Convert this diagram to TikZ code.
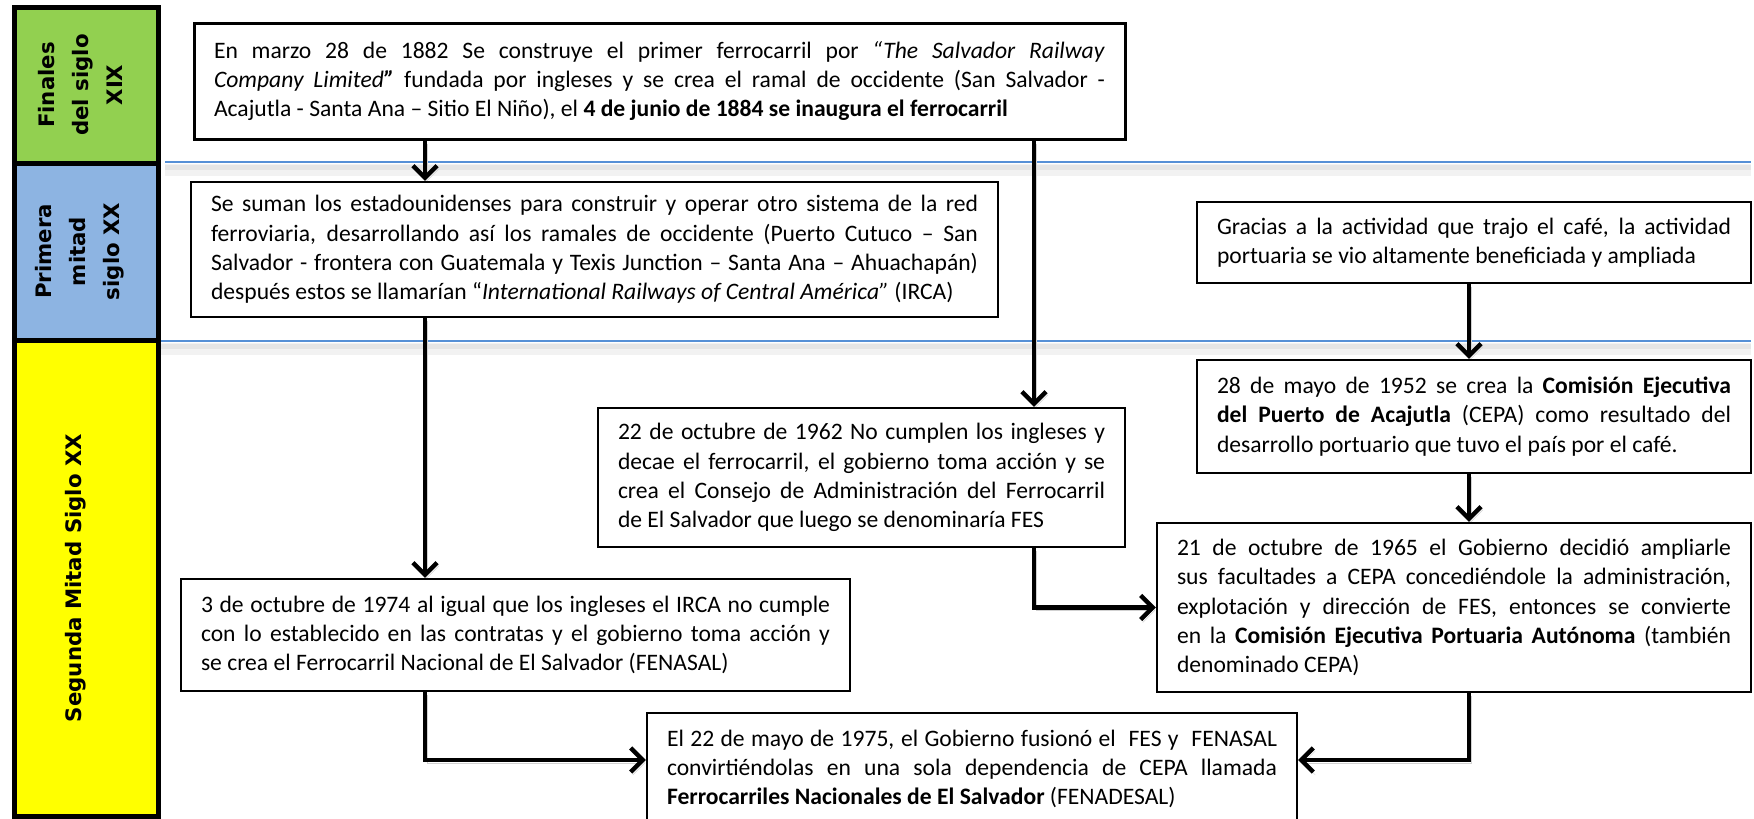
\documentclass[tikz,border=0pt]{standalone}
\usepackage{fontspec}
\setmainfont{Carlito}
\newfontfamily\erafont{DejaVu Sans}
\usetikzlibrary{arrows.meta}

\definecolor{siglogreen}{RGB}{146,208,80}
\definecolor{siglosky}{RGB}{141,180,226}
\definecolor{sigloyellow}{RGB}{255,255,0}
\definecolor{rulerblue}{RGB}{86,144,214}

\newcommand{\eventfont}{\fontsize{23.6}{29.3}\selectfont}
\newcommand{\erasize}{\erafont\bfseries\fontsize{21.3}{34}\selectfont}

\tikzset{
    era/.style={draw, line width=5pt, minimum width=144pt},
    eratext/.style={rotate=90, align=center, font=\erasize},
    event/.style={draw, line width=2.2pt, fill=white, inner xsep=20pt,
        inner ysep=0pt, align=justify, font=\eventfont},
    ruler/.style={draw=rulerblue, line width=1.6pt},
    rulershade/.style={draw=black!5, line width=12pt},
    rulershadedark/.style={draw=black!10, line width=5pt},
    link/.style={->, line width=4.5pt,
        preaction={draw=black!18, transform canvas={shift={(2pt,-3pt)}}}}
}

\begin{document}
\begin{tikzpicture}[x=1pt, y=-1pt, >={Straight Barb[length=12pt,width=24pt]}]
    % the frame of the whole picture
    \clip (0,0) rectangle (1754,819);
    \fill[white] (0,0) rectangle (1754,819);

    % the two blue rulers between the periods, with their shadow
    \draw[rulershade] (165,170) -- (1751,170);
    \draw[rulershadedark] (165,167) -- (1751,167);
    \draw[ruler] (165,162) -- (1751,162);
    \draw[rulershade] (158,349) -- (1751,349);
    \draw[rulershadedark] (158,346) -- (1751,346);
    \draw[ruler] (158,341) -- (1751,341);

    % the coloured column of the periods
    \node[era, fill=siglogreen, minimum height=156pt] (finales) at (86,85) {};
    \node[eratext] (finalestext) at ([xshift=-6pt]finales.center) {Finales\\del siglo\\XIX};
    \node[era, fill=siglosky, minimum height=177pt] (primera) at (86,251.5) {};
    \node[eratext] (primeratext) at ([xshift=-6pt]primera.center) {Primera\\mitad\\siglo XX};
    \node[era, fill=sigloyellow, minimum height=476pt] (segunda) at (86,578) {};
    \node[eratext] (segundatext) at ([xshift=-10pt]segunda.center) {Segunda Mitad Siglo XX};

    % the columns and the row where the connectors run
    \coordinate (colA) at (425,0);
    \coordinate (colB) at (1034,0);
    \coordinate (colC) at (1469,0);
    \coordinate (rowC) at (0,760);

    % The box of 1882 -> first railway
    \node[event, minimum width=931pt, minimum height=116pt, text width=891pt, line width=3pt]
        (marzo) at (659.5,81) {En marzo 28 de 1882 Se construye el primer ferrocarril por \textit{“The Salvador Railway}\linebreak
        \textit{Company Limited\textbf{”}} fundada por ingleses y se crea el ramal de occidente (San Salvador -\linebreak
        Acajutla - Santa Ana – Sitio El Niño), el \textbf{4 de junio de 1884 se inaugura el ferrocarril}};

    % The box of the americans -> IRCA
    \node[event, minimum width=807pt, minimum height=135pt, text width=767pt]
        (suman) at (594.5,249.5) {Se suman los estadounidenses para construir y operar otro sistema de la red\linebreak
        ferroviaria, desarrollando así los ramales de occidente (Puerto Cutuco – San\linebreak
        Salvador - frontera con Guatemala y Texis Junction – Santa Ana – Ahuachapán)\linebreak
        después estos se llamarían “\textit{International Railways of Central América”} (IRCA)};

    % The box of the coffee
    \node[event, minimum width=554pt, minimum height=81pt, text width=514pt]
        (cafe) at (1474,242.5) {Gracias a la actividad que trajo el café, la actividad\linebreak
        portuaria se vio altamente beneficiada y ampliada};

    % The box of 1952 -> CEPA
    \node[event, minimum width=554pt, minimum height=113pt, text width=514pt]
        (cepauno) at (1474,416.5) {28 de mayo de 1952 se crea la \textbf{Comisión Ejecutiva}\linebreak
        \textbf{del Puerto de Acajutla} (CEPA) como resultado del\linebreak
        desarrollo portuario que tuvo el país por el café.};

    % The box of 1962 -> FES
    \node[event, minimum width=527pt, minimum height=139pt, text width=487pt]
        (decae) at (861.5,477.5) {22 de octubre de 1962 No cumplen los ingleses y\linebreak
        decae el ferrocarril, el gobierno toma acción y se\linebreak
        crea el Consejo de Administración del Ferrocarril\linebreak
        de El Salvador que luego se denominaría FES};

    % The box of 1965 -> CEPA again
    \node[event, minimum width=594pt, minimum height=169pt, text width=554pt]
        (cepados) at (1454,607.5) {21 de octubre de 1965 el Gobierno decidió ampliarle\linebreak
        sus facultades a CEPA concediéndole la administración,\linebreak
        explotación y dirección de FES, entonces se convierte\linebreak
        en la \textbf{Comisión Ejecutiva Portuaria Autónoma} (también\linebreak
        denominado CEPA)};

    % The box of 1974 -> FENASAL
    \node[event, minimum width=669pt, minimum height=112pt, text width=629pt]
        (fenasal) at (515.5,635) {3 de octubre de 1974 al igual que los ingleses el IRCA no cumple\linebreak
        con lo establecido en las contratas y el gobierno toma acción y\linebreak
        se crea el Ferrocarril Nacional de El Salvador (FENASAL)};

    % The box of 1975 -> FENADESAL
    \node[event, minimum width=650pt, minimum height=112pt, text width=610pt]
        (fenadesal) at (972,769) {El 22 de mayo de 1975, el Gobierno fusionó el~ FES y~ FENASAL\linebreak
        convirtiéndolas en una sola dependencia de CEPA llamada\linebreak
        \textbf{Ferrocarriles Nacionales de El Salvador} (FENADESAL)};

    % the arrows of the left column
    \draw[link] (colA |- marzo.south) -- (colA |- suman.north);
    \draw[link] (colA |- suman.south) -- (colA |- fenasal.north);
    \draw[link] (colA |- fenasal.south) |- (fenadesal.west |- rowC);

    % the arrows of the middle column
    \draw[link] (colB |- marzo.south) -- (colB |- decae.north);
    \draw[link] (colB |- decae.south) |- (cepados.west);

    % the arrows of the right column
    \draw[link] (colC |- cafe.south) -- (colC |- cepauno.north);
    \draw[link] (colC |- cepauno.south) -- (colC |- cepados.north);
    \draw[link] (colC |- cepados.south) |- (fenadesal.east |- rowC);
\end{tikzpicture}
\end{document}
